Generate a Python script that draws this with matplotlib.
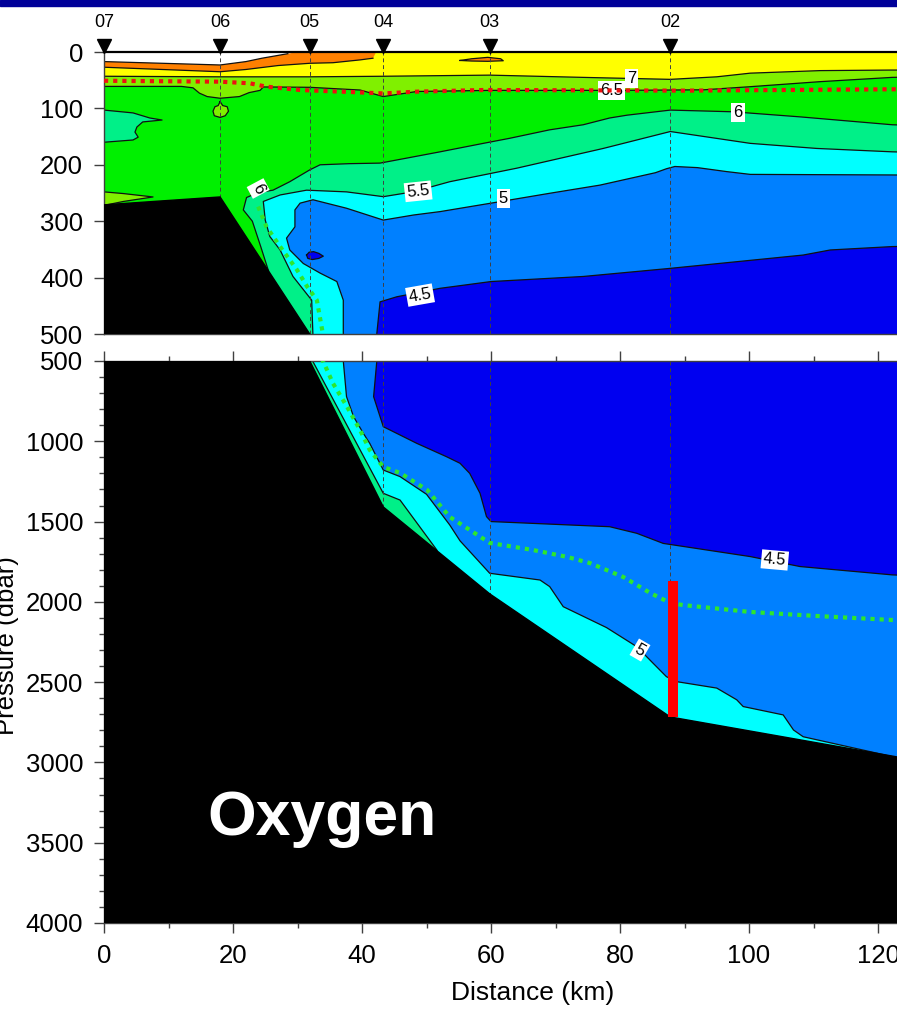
import matplotlib
matplotlib.use('Agg')
import matplotlib.pyplot as plt
from matplotlib.patches import Rectangle

plt.rcParams['font.family'] = ['Liberation Sans', 'DejaVu Sans']

# stations along the section
station_names = ['07', '06', '05', '04', '03', '02']
station_km = [0, 18.0, 31.9, 43.3, 59.8, 87.8]

# bottom (bathymetry)
bathy_km = [0, 18.0, 31.9, 43.3, 59.8, 87.8, 123, 133]
bathy_dbar = [271, 257, 500, 1409, 1950, 2717, 2966, 3037]

# top of the gridded data (white above)
surf_km = [0, 18, 22.0, 24.5, 27.0, 28.5, 30.0]
surf_dbar = [17, 23, 17, 11, 6, 3, 0]

# isolines of oxygen (ml/l), distance km / pressure dbar
iso75_km = [0, 9, 18, 22, 27, 31.9, 35.5, 39.7, 41.7]
iso75_dbar = [27, 31, 35, 31, 24, 20, 19, 14, 11]

iso7_km = [0, 18, 31.9, 43.3, 59.8, 74.3, 87.8, 95, 100.2, 111, 122.2, 133]
iso7_dbar = [43, 44, 44, 43, 41, 45, 48.5, 44, 37.5, 33, 32, 32]

iso65_km = [0, 12, 13.8, 14.8, 16, 18, 21, 22.5, 24.2, 24.7, 25.5, 31.9, 39.7,
            43.3, 48.5, 60, 80, 93, 100.2, 111, 122.2, 133]
iso65_dbar = [61, 61, 63.5, 73, 79, 82, 79, 72, 68, 62, 62, 62.6, 67.4,
              79, 70, 68, 68, 67, 61.5, 52.6, 45, 43]

iso6_km = [25.5, 24.3, 23.0, 21.6, 22.1, 24.0, 26.2, 28.8, 31.9, 33.5, 38, 42.8,
           47, 52.1, 58.8, 62.9, 69.1, 74.3, 78.4, 81.1, 87.8, 97.5, 107.9, 122.2, 133]
iso6_dbar = [388, 345, 300, 280, 258, 249, 245, 230, 209, 200, 198, 197,
             188, 177, 162, 153, 138, 129, 117, 112, 103, 106, 115, 129, 133]

iso55_km = [133, 122.2, 110.5, 100.2, 87.8, 77.4, 64, 53.6, 47.9, 43.3, 37.6, 31.4,
            27.3, 24.7, 25.0, 25.7, 27.3, 29.3, 32.2, 32.4, 43.3, 45.9, 51.6, 52.5]
iso55_dbar = [180, 177, 171, 162, 141, 171, 206, 230, 248, 256.5, 248, 245,
              253.5, 265, 298, 327, 351, 398, 440, 504, 1324, 1366, 1677, 1800]

iso5_km = [133, 122.2, 100.2, 96.5, 92, 88.5, 87.2, 85.5, 76.9, 69.1, 60, 52.1, 48,
           43.3, 37.6, 32.4, 30.4, 29.6, 29.6, 28.3, 28.8, 30.9, 33.5, 36.1, 37.1,
           37.1, 37.6, 38.7, 40.2, 41.2, 43.3, 45.9, 50, 53.6, 55.2, 59.8, 67.6,
           69.1, 71.2, 77.9, 82.6, 85.1, 87.2, 88.8, 95, 98.1, 99.1, 105.3, 106.9,
           108.4, 118.8, 122.2]
iso5_dbar = [219, 218, 217, 212, 205, 203, 207, 214, 236, 250.5, 268, 283, 289,
             298, 277, 262, 268, 280, 310, 330, 351, 375, 392, 407, 440,
             500, 722, 847, 950, 1013, 1179, 1220, 1330, 1521, 1620, 1822, 1864,
             1905, 2030, 2160, 2279, 2381, 2466, 2497, 2537, 2610, 2652, 2704, 2798,
             2840, 2933, 2964]

iso45_km = [133, 122.2, 112.6, 108.4, 87.8, 74.3, 60, 52.1, 45.4, 42.8, 42.3,
            41.8, 43.3, 48.5, 53.1, 55.2, 56.7, 58.3, 59.3, 60, 78.4, 82.6, 86.7,
            100.2, 107.9, 122.2, 133]
iso45_dbar = [343, 345, 351, 360, 383.6, 398, 407, 419, 434, 443, 499,
              722, 909, 1013, 1096, 1137, 1200, 1324, 1469, 1500, 1532, 1573, 1636,
              1718, 1780, 1832, 1850]

# small closed features
lens_mint_km = [0, 4.5, 7.1, 9.0, 6.0, 5.1, 4.8, 5.3, 4.5, 0]
lens_mint_dbar = [103, 108, 117, 120.6, 124, 133, 142, 151, 156, 160]
wedge_km = [0, 3, 7.6, 3, 0]
wedge_dbar = [248, 251, 257, 265, 272]
blob_km = [18.0, 18.4, 19.1, 19.3, 18.8, 18.0, 17.1, 16.9, 17.2, 17.7]
blob_dbar = [88, 95, 97, 105, 113, 116, 113, 105, 97, 95]
lens_orange_km = [55.2, 57, 59.5, 61.5, 61.9, 59.5, 57]
lens_orange_dbar = [15, 12, 9.5, 12, 15.5, 16.5, 16]
lens_dark_km = [31.4, 31.8, 32.5, 33.3, 34.0, 33.3, 32.3, 31.6]
lens_dark_dbar = [360, 355, 354, 357, 362, 366, 368, 366]

# overlays
red_km = [0, 18, 22.6, 25.2, 30.4, 38.4, 43.3, 48.5, 58.8, 90, 122.2, 133]
red_dbar = [51, 52.6, 55.5, 61.5, 67.4, 71, 73.5, 70.3, 67.4, 68.5, 66.1, 66]
green_km = [23.9, 25.2, 27.3, 29.9, 31.5, 33.0, 34.0, 35.5, 37.7, 39.7, 41.2, 43.3,
            45.9, 50.1, 53.6, 59.8, 66.5, 71.8, 75.3, 80.5, 84.7, 87.8, 89.8, 100.2,
            110.5, 122.2, 133]
green_dbar = [274, 310, 345, 386, 416, 440, 504, 639, 786, 930, 1054, 1160,
              1197, 1303, 1471, 1633, 1677, 1720, 1758, 1845, 1945, 2007, 2020, 2063,
              2088, 2113, 2125]
bar_km = [88.2, 88.2]
bar_dbar = [1870, 2717]

# contour labels: text, km, dbar, rotation
clabels = [('7', 81.8, 46.6, 0), ('6.5', 78.7, 68.6, 0), ('6', 98.3, 108, 0),
           ('6', 23.9, 242, -62), ('5.5', 48.7, 247, 6), ('5', 61.9, 259, 0),
           ('4.5', 49.0, 431, 10), ('4.5', 104, 1739, -5), ('5', 83.1, 2300, -30)]

c_orange = '#FF8000'
c_yellow = '#FFFF00'
c_chart = '#80F000'
c_green = '#00F000'
c_mint = '#00F088'
c_cyan = '#00FFFF'
c_mid = '#0080FF'
c_dark = '#0000F0'

XMAX = 133
DEEP = 4500

fig = plt.figure(figsize=(8.97, 10.09), dpi=100)
fig.patches.append(Rectangle((0, 1 - 6 / 1009), 1, 6 / 1009, transform=fig.transFigure,
                             color='#000099', zorder=10))
L = 104 / 897
W = XMAX * 6.45 / 897
ax1 = fig.add_axes([L, (1009 - 334) / 1009, W, 282 / 1009])
ax2 = fig.add_axes([L, (1009 - 923) / 1009, W, 562 / 1009])

for ax in (ax1, ax2):
    def poly(xs, ps, c):
        ax.fill(xs, ps, facecolor=c, edgecolor='none', zorder=1)

    poly(surf_km + [XMAX, XMAX, 0], surf_dbar + [0, DEEP, DEEP], c_orange)
    poly(iso75_km + [42.2, XMAX, XMAX, 0], iso75_dbar + [0, 0, DEEP, DEEP], c_yellow)
    poly(lens_orange_km, lens_orange_dbar, c_orange)
    poly(iso7_km + [XMAX, 0], iso7_dbar + [DEEP, DEEP], c_chart)
    poly(iso65_km + [XMAX, 0], iso65_dbar + [DEEP, DEEP], c_green)
    poly(lens_mint_km, lens_mint_dbar, c_mint)
    poly(wedge_km, wedge_dbar, c_chart)
    poly(blob_km, blob_dbar, c_chart)
    poly(iso6_km + [XMAX, iso6_km[0]], iso6_dbar + [DEEP, DEEP], c_mint)
    poly(iso55_km + [iso55_km[-1], XMAX], iso55_dbar + [DEEP, DEEP], c_cyan)
    poly(iso5_km + [XMAX], iso5_dbar + [3100], c_mid)
    poly(iso45_km, iso45_dbar, c_dark)
    poly(lens_dark_km, lens_dark_dbar, c_dark)

    # contour lines
    for xs, ps in [(surf_km[:-1], surf_dbar[:-1]), (iso75_km, iso75_dbar),
                   (iso7_km, iso7_dbar), (iso65_km, iso65_dbar), (iso6_km, iso6_dbar),
                   (iso55_km, iso55_dbar), (iso5_km, iso5_dbar), (iso45_km, iso45_dbar),
                   (lens_mint_km, lens_mint_dbar), (wedge_km, wedge_dbar)]:
        ax.plot(xs, ps, color='#111111', lw=0.9, zorder=2)
    for xs, ps in [(lens_orange_km, lens_orange_dbar), (blob_km, blob_dbar),
                   (lens_dark_km, lens_dark_dbar)]:
        ax.plot(xs + xs[:1], ps + ps[:1], color='#111111', lw=0.9, zorder=2)

    for s in station_km[1:]:
        ax.axvline(s, color='#404040', lw=0.7, ls=(0, (4, 3)), zorder=2.5)

    ax.plot(red_km, red_dbar, color='#EE1111', lw=3, ls=(0, (1, 1.2)), zorder=4)
    ax.plot(green_km, green_dbar, color='#2EE62E', lw=3, ls=(0, (1, 1.2)), zorder=4)

    ax.fill(bathy_km + [XMAX, 0], bathy_dbar + [DEEP, DEEP], color='black', zorder=5)
    ax.plot(bar_km, bar_dbar, color='#FF0000', lw=7.2, solid_capstyle='butt', zorder=6)

    ax.set_xlim(0, XMAX)
    for sp in ax.spines.values():
        sp.set_color('#404040')
        sp.set_linewidth(1)
    ax.tick_params(axis='both', labelsize=18.5, color='#404040', direction='out',
                   length=7, width=1, pad=8)
    ax.tick_params(which='minor', length=3.5, width=1, color='#404040')

for txt, x, p, rot in clabels:
    ax = ax1 if p <= 500 else ax2
    ax.text(x, p, txt, fontsize=12, rotation=rot, ha='center', va='center', zorder=3.5,
            bbox=dict(boxstyle='square,pad=0.12', fc='white', ec='none'))

# top panel
ax1.set_ylim(500, 0)
ax1.set_yticks([0, 100, 200, 300, 400, 500])
ax1.set_xticks([])
ax1.spines['top'].set_color('black')
ax1.spines['top'].set_linewidth(1.6)
# station triangles just above the frame, names above them
ax1.plot(station_km, [1.021] * len(station_km), 'v', color='black', ms=10,
         transform=ax1.get_xaxis_transform(), clip_on=False, zorder=8)
for nm, s in zip(station_names, station_km):
    ax1.text(s, 1.106, nm, transform=ax1.get_xaxis_transform(), ha='center',
             va='center', fontsize=13)

# bottom panel
ax2.set_ylim(4000, 500)
ax2.set_yticks(range(500, 4001, 500))
ax2.set_yticks(range(500, 4001, 100), minor=True)
ax2.set_xticks(range(0, 121, 20))
ax2.set_xticks(range(10, 131, 20), minor=True)
ax2.tick_params(which='both', top=True)
ax2.tick_params(which='major', top=True, length=7)

ax2.text(0.1201, 0.1566, 'Oxygen', transform=ax2.transAxes, color='white', fontsize=45,
         fontweight='bold', ha='left', va='baseline', zorder=9)

fig.text(533 / 897, 1 - 993 / 1009, 'Distance (km)', ha='center', va='center', fontsize=19)
fig.text(7 / 897, 1 - 646 / 1009, 'Pressure (dbar)', ha='center', va='center',
         rotation=90, fontsize=18.5)

fig.savefig('out.png', dpi=100)
